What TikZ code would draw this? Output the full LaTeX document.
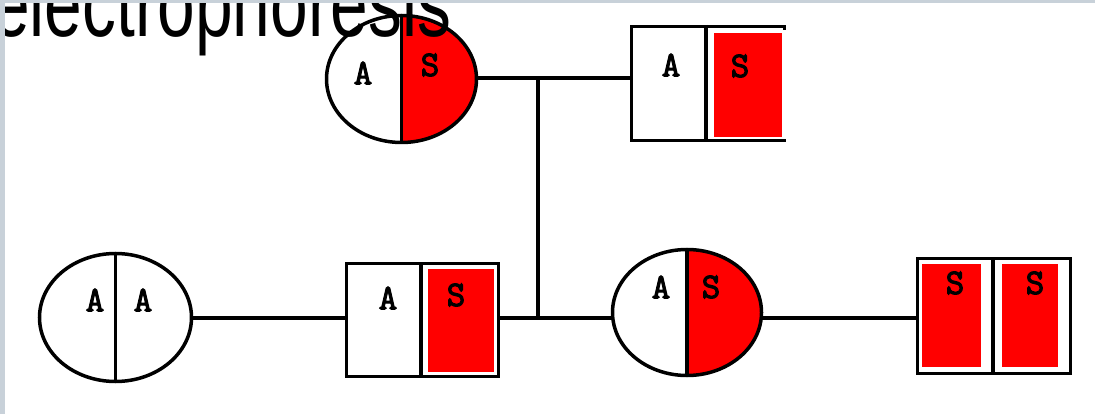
\documentclass[tikz,border=0pt]{standalone}
\usepackage{fontspec}
\setmainfont{Liberation Sans}
\newfontfamily\labfont{Latin Modern Mono}[FakeBold=3]
\usetikzlibrary{shapes.geometric}
\definecolor{strip}{HTML}{C8D1D9}
\definecolor{gred}{HTML}{FF0000}
\tikzset{
  lw/.style={line width=3.5pt},
  ln/.style={lw, line cap=rect},
  female/.style={ellipse, draw, lw, inner sep=0pt, outer sep=0pt},
  halfred/.style={path picture={
     \fill[gred] (path picture bounding box.north) rectangle (path picture bounding box.south east);
     \draw[lw] (path picture bounding box.north) -- (path picture bounding box.south);}},
  halfline/.style={path picture={
     \draw[lw] (path picture bounding box.north) -- (path picture bounding box.south);}},
  male/.style={rectangle, inner sep=0pt, outer sep=0pt},
  lab/.style={inner sep=0pt},
  redbox/.style={fill=gred},
}
\newcommand\lbl[1]{{\labfont\fontsize{36}{36}\selectfont #1}}
\begin{document}
\begin{tikzpicture}[x=1pt,y=-1pt]
\useasboundingbox (0,0) rectangle (1095,414);
\fill[white] (0,0) rectangle (1095,414);

% top generation
\node[female, halfred, minimum width=150pt, minimum height=127pt] (c1) at (401.5,79) {};
\node[male, minimum width=153pt, minimum height=114pt] (s1) at (708,83.5) {};
\fill[redbox] (714,33) rectangle (782,137);
\draw[ln] (s1.north east) -- (s1.north west) -- (s1.south west) -- (s1.south east);
\draw[lw] (s1.north east) -- ++(0,4);
\draw[lw] (706,25) -- (706,142);
\node[lab] (c1a) at (363,73) {\lbl{A}};
\node[lab] (c1s) at (430,65) {\lbl{S}};
\node[lab] (s1a) at (671,65) {\lbl{A}};
\node[lab] (s1s) at (740,66) {\lbl{S}};

\coordinate (t) at (538,78);
\coordinate (b) at (538,318);
\draw[lw] (c1.east |- t) -- (s1.west |- t);
\draw[lw] (t) -- (b);

% bottom generation
\node[female, halfline, minimum width=152pt, minimum height=128pt] (c2) at (115.5,317.5) {};
\node[male, draw, lw, minimum width=152pt, minimum height=113pt] (s2) at (422.5,320) {};
\fill[redbox] (428,269) rectangle (494,372);
\draw[lw] (421,262) -- (421,378);
\node[female, halfred, minimum width=149pt, minimum height=126pt] (c3) at (687,312.5) {};
\node[male, draw, lw, minimum width=153pt, minimum height=115pt] (s3) at (994,316) {};
\fill[redbox] (922,264) rectangle (981,367);
\fill[redbox] (1002,264) rectangle (1058,367);
\draw[lw] (993,257) -- (993,375);

\node[lab] (c2a) at (95,300) {\lbl{A}};
\node[lab] (c2b) at (143,300) {\lbl{A}};
\node[lab] (s2a) at (388,298) {\lbl{A}};
\node[lab] (s2s) at (456,295) {\lbl{S}};
\node[lab] (c3a) at (661,287) {\lbl{A}};
\node[lab] (c3s) at (711,287) {\lbl{S}};
\node[lab] (s3a) at (955,283) {\lbl{S}};
\node[lab] (s3b) at (1035,283) {\lbl{S}};

\draw[lw] (c2.east |- b) -- (s2.west |- b);
\draw[lw] (s2.east |- b) -- (c3.west |- b);
\draw[lw] (c3.east |- b) -- (s3.west |- b);

% title
\node[anchor=base west, inner sep=0pt, font=\fontsize{94}{94}\selectfont, xscale=0.72, transform shape] (title) at (-8,37) {electrophoresis};

% frame strips
\fill[strip] (0,0) rectangle (1095,3);
\fill[strip] (0,3) rectangle (5,414);
\end{tikzpicture}
\end{document}
